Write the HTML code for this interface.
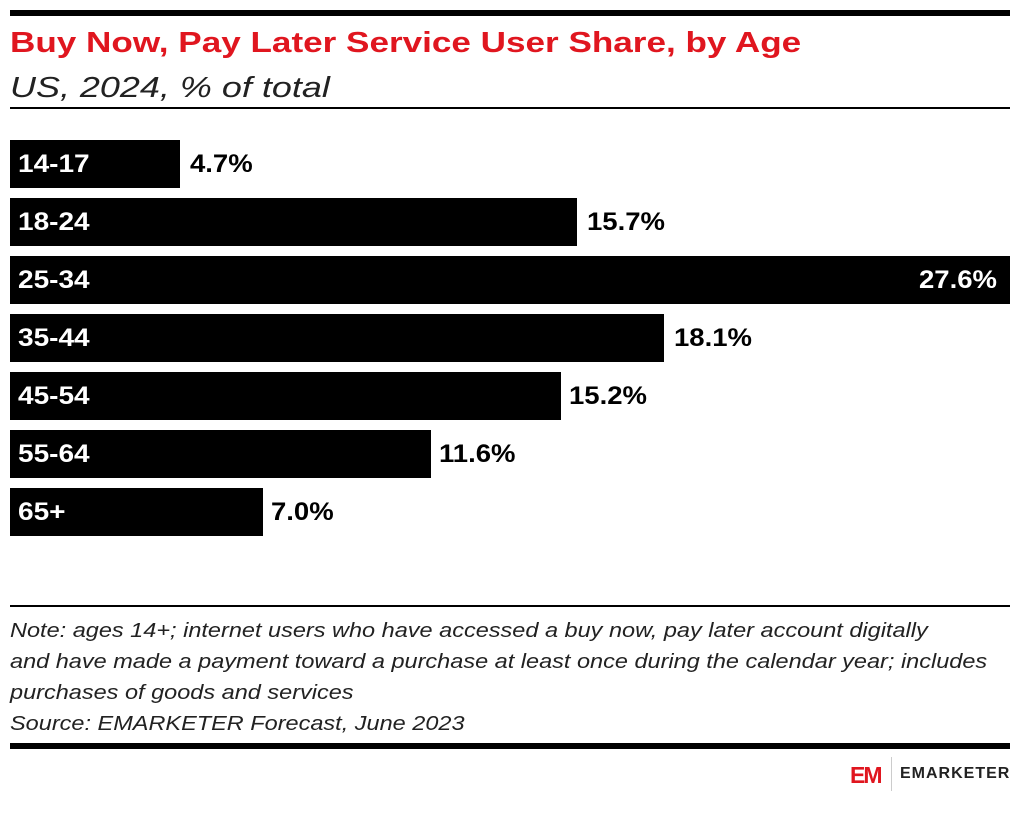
<!DOCTYPE html>
<html><head><style>
body{margin:0;width:1020px;height:813px;background:#fff;font-family:"Liberation Sans",sans-serif;position:relative;overflow:hidden}
.a{position:absolute;white-space:nowrap}
.s{transform-origin:0 0}
.bar{position:absolute;left:10px;height:48px;background:#000}
.lab{position:absolute;left:18px;color:#fff;font-weight:bold;font-size:25px;line-height:48px;transform:scaleX(1.12);transform-origin:0 0}
.val{position:absolute;color:#000;font-size:25px;line-height:48px;font-weight:bold;transform:scaleX(1.1);transform-origin:0 0}
.note{position:absolute;left:10px;font-style:italic;font-size:20px;color:#222;white-space:nowrap;transform:scaleX(1.175);transform-origin:0 0}
</style></head><body>
<div class="a" style="left:10px;top:10px;width:1000px;height:6px;background:#000"></div>
<div class="a s" style="left:10px;top:27px;font-size:29px;font-weight:bold;color:#e0161f;transform:scaleX(1.21)">Buy Now, Pay Later Service User Share, by Age</div>
<div class="a s" style="left:10px;top:72px;font-size:29px;font-style:italic;color:#222;transform:scaleX(1.24)">US, 2024, % of total</div>
<div class="a" style="left:10px;top:107px;width:1000px;height:2px;background:#000"></div>

<div class="bar" style="top:140px;width:170px"></div><div class="lab" style="top:140px">14-17</div><div class="val" style="top:140px;left:190px">4.7%</div>
<div class="bar" style="top:198px;width:567px"></div><div class="lab" style="top:198px">18-24</div><div class="val" style="top:198px;left:587px">15.7%</div>
<div class="bar" style="top:256px;width:1000px"></div><div class="lab" style="top:256px">25-34</div><div class="val" style="top:256px;left:919px;color:#fff">27.6%</div>
<div class="bar" style="top:314px;width:654px"></div><div class="lab" style="top:314px">35-44</div><div class="val" style="top:314px;left:674px">18.1%</div>
<div class="bar" style="top:372px;width:551px"></div><div class="lab" style="top:372px">45-54</div><div class="val" style="top:372px;left:569px">15.2%</div>
<div class="bar" style="top:430px;width:421px"></div><div class="lab" style="top:430px">55-64</div><div class="val" style="top:430px;left:439px">11.6%</div>
<div class="bar" style="top:488px;width:253px"></div><div class="lab" style="top:488px">65+</div><div class="val" style="top:488px;left:271px">7.0%</div>

<div class="a" style="left:10px;top:605px;width:1000px;height:2px;background:#000"></div>
<div class="note" style="top:620px">Note: ages 14+; internet users who have accessed a buy now, pay later account digitally</div>
<div class="note" style="top:651px">and have made a payment toward a purchase at least once during the calendar year; includes</div>
<div class="note" style="top:682px">purchases of goods and services</div>
<div class="note" style="top:713px">Source: EMARKETER Forecast, June 2023</div>
<div class="a" style="left:10px;top:743px;width:1000px;height:6px;background:#000"></div>
<div class="a" style="left:850px;top:762px;font-size:23px;font-weight:bold;color:#e0161f;letter-spacing:-2px">EM</div>
<div class="a" style="left:891px;top:757px;width:1px;height:34px;background:#ccc"></div>
<div class="a" style="left:900px;top:765px;font-size:16px;font-weight:bold;color:#222;letter-spacing:1px">EMARKETER</div>
</body></html>
